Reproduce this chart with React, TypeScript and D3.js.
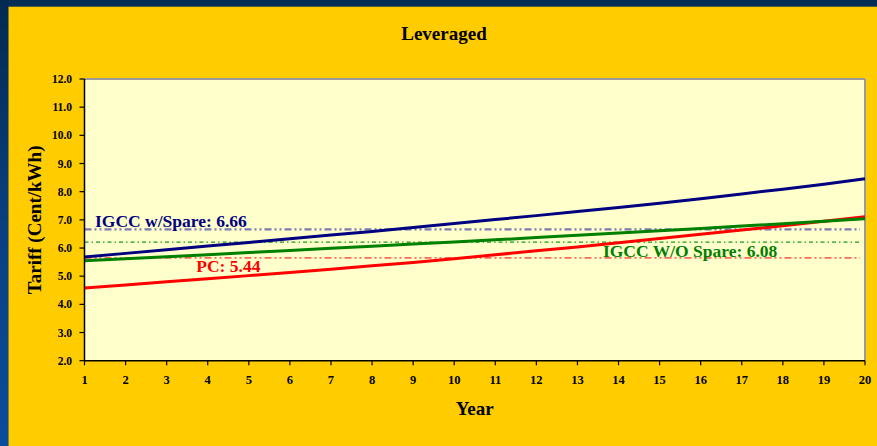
import React from 'react';
import * as d3 from 'd3';

const years = [1, 2, 3, 4, 5, 6, 7, 8, 9, 10, 11, 12, 13, 14, 15, 16, 17, 18, 19, 20];
const igccSpare = [5.68, 5.81, 5.94, 6.07, 6.2, 6.33, 6.46, 6.59, 6.73, 6.87, 7.01, 7.15, 7.3, 7.44, 7.59, 7.75, 7.92, 8.09, 8.26, 8.46];
const igccNoSpare = [5.55, 5.62, 5.69, 5.76, 5.84, 5.91, 5.99, 6.06, 6.14, 6.21, 6.29, 6.37, 6.45, 6.53, 6.61, 6.69, 6.78, 6.86, 6.95, 7.04];
const pc = [4.58, 4.69, 4.8, 4.91, 5.02, 5.13, 5.25, 5.37, 5.49, 5.62, 5.76, 5.9, 6.04, 6.19, 6.34, 6.49, 6.64, 6.79, 6.95, 7.11];
const yTicks = [2, 3, 4, 5, 6, 7, 8, 9, 10, 11, 12];
const refLevels = [6.66, 6.21, 5.65];
const refLabels = ['IGCC w/Spare: 6.66', 'IGCC W/O Spare: 6.08', 'PC: 5.44'];
const title = 'Leveraged';
const xTitle = 'Year';
const yTitle = 'Tariff (Cent/kWh)';

const FONT = '"Liberation Serif", "Times New Roman", serif';

export default function App() {
  const W = 877;
  const H = 446;
  const left = 84.5, right = 865, top = 79, bottom = 360.7;
  const x = d3.scaleLinear().domain([1, 20]).range([left, right]);
  const y = d3.scaleLinear().domain([2, 12]).range([bottom, top]);
  const line = d3
    .line<number>()
    .x((_, i) => x(years[i]))
    .y((d) => y(d));

  const series = [
    { data: igccSpare, color: '#000080' },
    { data: pc, color: '#FF0000' },
    { data: igccNoSpare, color: '#008000' },
  ];

  const refStyles = [
    { color: '#7b7bb3', width: 2.2, dash: '7,3,2,3,2,3' },
    { color: '#1a9a1a', width: 1.2, dash: '4,3,1.5,3' },
    { color: '#ff6a5a', width: 1.6, dash: '7,3,2,3,2,3' },
  ];

  const labelPos = [
    { x: x(1) + 10.5, y: y(refLevels[0]) - 2.5, color: '#000080' },
    { x: x(13.62), y: y(refLevels[1]) + 15, color: '#008000' },
    { x: x(3.72), y: y(refLevels[2]) + 14, color: '#FF0000' },
  ];

  return (
    <svg
      width={W}
      height={H}
      style={{ position: 'absolute', left: 0, top: 0, display: 'block' }}
      fontFamily={FONT}
    >
      <defs>
        <linearGradient id="leftStrip" x1="0" y1="0" x2="0" y2="1">
          <stop offset="0" stopColor="#032a50" />
          <stop offset="0.5" stopColor="#0a3f80" />
          <stop offset="1" stopColor="#0b4c9c" />
        </linearGradient>
      </defs>
      <rect x={0} y={0} width={W} height={H} fill="#062e55" />
      <rect x={0} y={0} width={8.5} height={H} fill="url(#leftStrip)" />
      <rect x={8.5} y={6.7} width={W - 8.5} height={H - 6.7} fill="#FFCC00" />

      <text x={444} y={40} textAnchor="middle" fontSize={19} fontWeight="bold" fill="#000">
        {title}
      </text>

      <rect x={left} y={top} width={right - left} height={bottom - top} fill="#FFFFCC" />
      <line x1={left} y1={top} x2={right} y2={top} stroke="#9a9a9a" strokeWidth={2} />
      <line x1={right} y1={top} x2={right} y2={bottom} stroke="#9a9a9a" strokeWidth={2} />

      {refLevels.map((v, i) => (
        <line
          key={'ref' + i}
          x1={left}
          x2={right - 5}
          y1={y(v)}
          y2={y(v)}
          stroke={refStyles[i].color}
          strokeWidth={refStyles[i].width}
          strokeDasharray={refStyles[i].dash}
        />
      ))}

      {series.map((s, i) => (
        <path key={'s' + i} d={line(s.data) || ''} fill="none" stroke={s.color} strokeWidth={3} />
      ))}

      {refLabels.map((t, i) => (
        <text
          key={'lab' + i}
          x={labelPos[i].x}
          y={labelPos[i].y}
          fontSize={17.5}
          fontWeight="bold"
          fill={labelPos[i].color}
        >
          {t}
        </text>
      ))}

      <line x1={left} y1={top} x2={left} y2={bottom} stroke="#000" strokeWidth={1.5} />
      <line x1={left} y1={bottom} x2={right} y2={bottom} stroke="#000" strokeWidth={1.5} />

      {yTicks.map((t) => (
        <g key={'yt' + t}>
          <line x1={left - 5} x2={left} y1={y(t)} y2={y(t)} stroke="#000" strokeWidth={1.2} />
          <text
            x={72}
            y={y(t)}
            dy="0.35em"
            textAnchor="end"
            fontSize={11.5}
            fontWeight="bold"
            fill="#000"
          >
            {t.toFixed(1)}
          </text>
        </g>
      ))}

      {years.map((t) => (
        <g key={'xt' + t}>
          <line x1={x(t)} x2={x(t)} y1={bottom} y2={bottom + 4.5} stroke="#000" strokeWidth={1.2} />
          <text x={x(t)} y={383.5} textAnchor="middle" fontSize={12.5} fontWeight="bold" fill="#000">
            {t}
          </text>
        </g>
      ))}

      <text x={(left + right) / 2} y={415} textAnchor="middle" fontSize={19} fontWeight="bold" fill="#000">
        {xTitle}
      </text>
      <text
        transform={`translate(41, ${(top + bottom) / 2}) rotate(-90)`}
        textAnchor="middle"
        fontSize={19}
        fontWeight="bold"
        fill="#000"
      >
        {yTitle}
      </text>
    </svg>
  );
}
